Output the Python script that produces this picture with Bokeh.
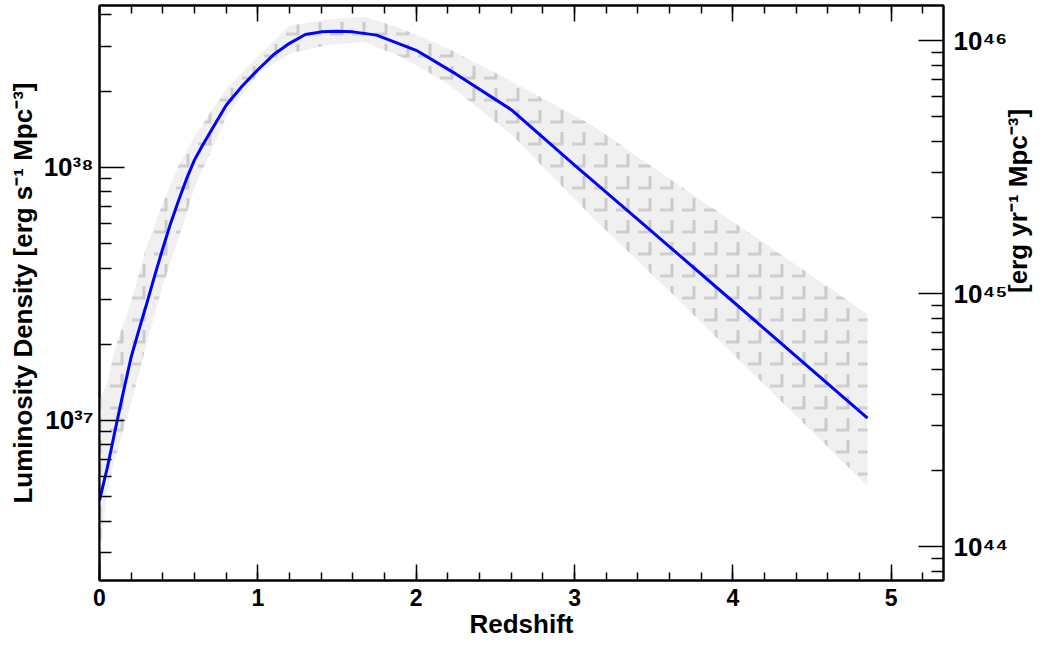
import math
from bokeh.plotting import figure
from bokeh.models import (Range1d, LogAxis, LinearAxis, LogScale, SingleIntervalTicker,
                          FixedTicker, CustomJSTickFormatter)
from bokeh.embed import file_html
from bokeh.resources import INLINE

# ---- data ----
z_line = [0.0, 0.05, 0.1, 0.15, 0.2, 0.25, 0.3, 0.35, 0.4, 0.45, 0.5, 0.55, 0.6, 0.65,
          0.7, 0.8, 0.9, 1.0, 1.1, 1.2, 1.3, 1.4, 1.5, 1.6, 1.75, 2.0, 2.25, 2.6, 3.0,
          3.5, 4.0, 4.5, 4.85]
lum_line = [4.83e36, 6.53e36, 9.23e36, 1.29e37, 1.78e37, 2.29e37, 2.92e37, 3.76e37,
            4.79e37, 6.03e37, 7.41e37, 9.02e37, 1.07e38, 1.22e38, 1.38e38, 1.76e38,
            2.09e38, 2.43e38, 2.79e38, 3.09e38, 3.35e38, 3.43e38, 3.45e38, 3.43e38,
            3.33e38, 2.90e38, 2.34e38, 1.69e38, 1.02e38, 5.50e37, 2.95e37, 1.58e37,
            1.02e37]

z_band = [0.0, 0.05, 0.1, 0.2, 0.3, 0.4, 0.5, 0.6, 0.8, 1.0, 1.2, 1.45, 1.67, 1.9,
          2.2, 2.6, 3.1, 3.6, 4.2, 4.85]
lum_upper = [1.20e37, 1.41e37, 1.95e37, 2.95e37, 4.90e37, 7.24e37, 1.02e38, 1.32e38,
             2.04e38, 2.75e38, 3.63e38, 3.85e38, 3.94e38, 3.55e38, 2.95e38, 2.19e38,
             1.48e38, 9.02e37, 5.01e37, 2.63e37]
lum_lower = [2.82e36, 5.37e36, 7.08e36, 1.17e37, 2.04e37, 3.43e37, 5.25e37, 8.32e37,
             1.58e38, 2.34e38, 2.82e38, 3.05e38, 3.13e38, 2.75e38, 2.14e38, 1.35e38,
             6.46e37, 3.24e37, 1.38e37, 5.50e36]

x_label = "Redshift"
y_label = "Luminosity Density [erg s\u207b\u00b9 Mpc\u207b\u00b3]"
y2_label = "[erg yr\u207b\u00b9 Mpc\u207b\u00b3]"

x_lo, x_hi = 0.0, 5.33
y_lo, y_hi = 2.33e36, 4.36e38
SEC_PER_YR = 3.156e7

left_major = [1e37, 1e38]
left_minor = [m * 10.0 ** e for e in (36, 37, 38) for m in range(2, 10)]
right_major = [1e44, 1e45, 1e46]
right_minor = [m * 10.0 ** e for e in (43, 44, 45, 46) for m in range(2, 10)]
# span along which the right-hand title is laid out (erg/yr units)
y2_title_span = (y_lo * SEC_PER_YR, 1.40e38 * SEC_PER_YR)

FONT = "Liberation Sans"

p = figure(width=1050, height=645, output_backend="svg", toolbar_location=None,
           x_range=Range1d(x_lo, x_hi), y_range=Range1d(y_lo, y_hi),
           y_axis_type="log", min_border_left=99, min_border_right=104,
           min_border_top=5, min_border_bottom=65)
p.extra_y_ranges = {"yr": Range1d(y_lo * SEC_PER_YR, y_hi * SEC_PER_YR)}
p.extra_y_scales = {"yr": LogScale()}

p.grid.visible = False
p.background_fill_color = "white"
p.border_fill_color = "white"
p.outline_line_color = "black"
p.outline_line_width = 2

# uncertainty band: light fill with broken grey bars (fret-like look)
p.varea(x=z_band, y1=lum_lower, y2=lum_upper, fill_color="#f0f0f0",
        hatch_pattern="horizontal_dash", hatch_color="#cfcfcf",
        hatch_scale=22, hatch_weight=3)
p.varea(x=z_band, y1=lum_lower, y2=lum_upper, fill_alpha=0,
        hatch_pattern="vertical_dash", hatch_color="#cbcbcb",
        hatch_scale=22, hatch_weight=3)
p.line(z_line, lum_line, line_color="#0000ff", line_width=3)

blank = CustomJSTickFormatter(code="return '';")
pow10 = CustomJSTickFormatter(code="""
const sup = {"0":"\u2070","1":"\u00b9","2":"\u00b2","3":"\u00b3","4":"\u2074","5":"\u2075",
             "6":"\u2076","7":"\u2077","8":"\u2078","9":"\u2079","-":"\u207b"};
const e = Math.round(Math.log10(tick));
return "10" + String(e).split("").map(c => sup[c]).join("");
""")

def style_axis(ax, major_in, minor_in):
    ax.major_tick_in = major_in
    ax.major_tick_out = 0
    ax.minor_tick_in = minor_in
    ax.minor_tick_out = 0
    ax.major_tick_line_color = "black"
    ax.minor_tick_line_color = "black"
    ax.major_tick_line_width = 1.5
    ax.minor_tick_line_width = 1.5
    ax.axis_line_color = "black"
    ax.axis_line_width = 2
    ax.major_label_text_font = FONT
    ax.major_label_text_font_style = "bold"
    ax.major_label_text_color = "black"
    ax.axis_label_text_font = FONT
    ax.axis_label_text_font_style = "bold"
    ax.axis_label_text_color = "black"
    ax.axis_label_text_font_size = "26px"

# bottom x axis
xa = p.xaxis[0]
xa.ticker = SingleIntervalTicker(interval=1, num_minor_ticks=5)
style_axis(xa, 16, 8)
xa.major_label_text_font_size = "23px"
xa.major_label_standoff = 8
xa.axis_label = x_label
xa.axis_label_standoff = 0

# top x axis (ticks only)
xt = LinearAxis(ticker=SingleIntervalTicker(interval=1, num_minor_ticks=5), formatter=blank)
style_axis(xt, 16, 8)
xt.major_label_standoff = 0
p.add_layout(xt, "above")

# left y axis
ya = p.yaxis[0]
ya.ticker = FixedTicker(ticks=left_major, minor_ticks=left_minor)
ya.formatter = pow10
style_axis(ya, 25, 12)
ya.major_label_text_font_size = "26px"
ya.major_label_standoff = 6
ya.axis_label = y_label
ya.axis_label_standoff = 3

# right y axis (erg per year): ticks and tick labels
yr = LogAxis(y_range_name="yr",
             ticker=FixedTicker(ticks=right_major, minor_ticks=right_minor),
             formatter=pow10)
style_axis(yr, 25, 12)
yr.major_label_text_font_size = "26px"
yr.major_label_standoff = 10
p.add_layout(yr, "right")

# right-hand title, carried by a tick-less axis
yt = LogAxis(y_range_name="yr", ticker=FixedTicker(ticks=[], minor_ticks=[]),
             formatter=blank, bounds=y2_title_span)
style_axis(yt, 0, 0)
yt.axis_line_color = None
yt.major_label_standoff = 0
yt.axis_label = y2_label
yt.axis_label_standoff = 6
yt.axis_label_orientation = math.pi / 2
p.add_layout(yt, "right")

open("out.html", "w", encoding="utf-8").write(file_html(p, INLINE))
